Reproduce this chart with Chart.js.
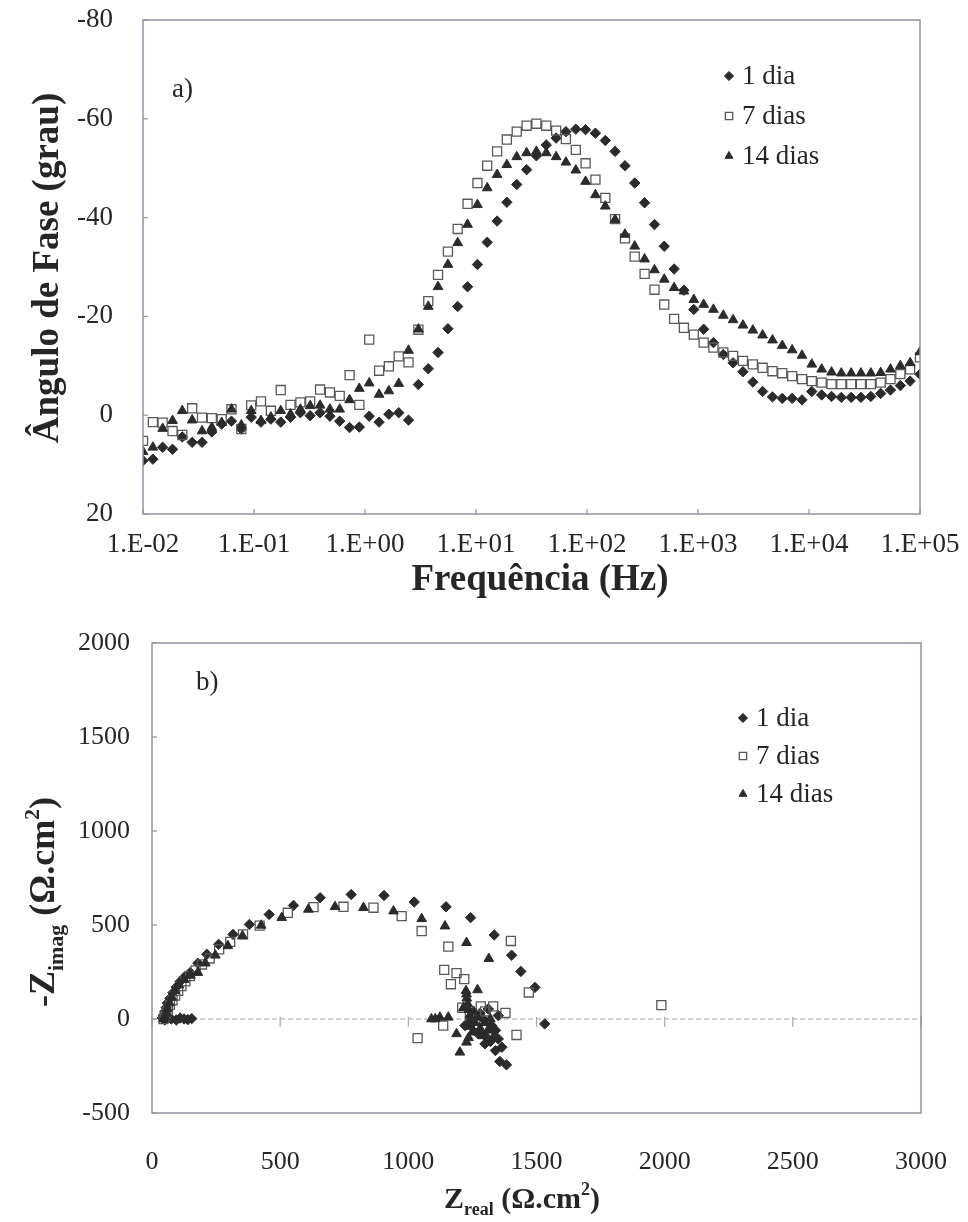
<!DOCTYPE html>
<html>
<head>
<meta charset="utf-8">
<script src="https://cdn.jsdelivr.net/npm/chart.js@4.4.1/dist/chart.umd.min.js"></script>
<style>
  html, body { margin:0; padding:0; background:#ffffff; }
  body { width:968px; height:1222px; position:relative; overflow:hidden; }
  canvas { position:absolute; left:0; }
  #chartA { top:0; }
  #chartB { top:600px; }
</style>
</head>
<body>
<canvas id="chartA" width="968" height="600" style="width:968px;height:600px"></canvas>
<canvas id="chartB" width="968" height="622" style="width:968px;height:622px"></canvas>
<script>
// ---------------- DATA ----------------
const seriesNames = ['1 dia', '7 dias', '14 dias'];

// log10 of the measured frequencies (Hz)
const freqExp = [
  -2.000,-1.911,-1.823,-1.734,-1.646,-1.557,-1.468,-1.380,-1.291,-1.203,
  -1.114,-1.025,-0.937,-0.848,-0.759,-0.671,-0.582,-0.494,-0.405,-0.316,
  -0.228,-0.139,-0.051, 0.038, 0.127, 0.215, 0.304, 0.392, 0.481, 0.570,
   0.658, 0.747, 0.835, 0.924, 1.013, 1.101, 1.190, 1.278, 1.367, 1.456,
   1.544, 1.633, 1.722, 1.810, 1.899, 1.987, 2.076, 2.165, 2.253, 2.342,
   2.430, 2.519, 2.608, 2.696, 2.785, 2.873, 2.962, 3.051, 3.139, 3.228,
   3.316, 3.405, 3.494, 3.582, 3.671, 3.759, 3.848, 3.937, 4.025, 4.114,
   4.203, 4.291, 4.380, 4.468, 4.557, 4.646, 4.734, 4.823, 4.911, 5.000
];

const phase1 = [
  9.2, 8.9, 6.5, 6.9, 4.4, 5.5, 5.5, 3.4, 1.8, 1.2,
  2.8, 0.4, 1.4, 0.8, 1.4, 0.4, -0.5, 0.1, -0.5, 0.2,
  1.2, 2.5, 2.4, 0.2, 1.4, -0.2, -0.5, 1.0, -6.2, -9.4,
  -12.7, -17.5, -22, -26, -30.5, -35, -39.3, -43.1, -46.7, -49.7,
  -52.5, -54.7, -56.1, -57.4, -57.9, -57.8, -57.1, -55.6, -53.4, -50.5,
  -47, -43, -38.6, -34.2, -29.6, -25.3, -21.4, -17.4, -14.7, -12.3,
  -10.6, -8.8, -6.7, -4.8, -3.7, -3.4, -3.4, -3.1, -4.8, -4.1,
  -3.8, -3.6, -3.6, -3.6, -3.8, -4.4, -5.1, -6, -6.9, -8.3
];
const phase7 = [
  5.2, 1.4, 1.5, 3.2, 4.0, -1.4, 0.5, 0.6, 0.8, -1.2,
  2.8, -2.0, -2.8, -0.9, -5.1, -2.1, -2.6, -2.8, -5.2, -4.6,
  -3.9, -8.1, -2.1, -15.3, -9.0, -9.9, -11.9, -10.7, -17.3, -23.1,
  -28.4, -33.1, -37.7, -42.8, -47, -50.5, -53.4, -55.8, -57.4, -58.6,
  -59, -58.6, -57.6, -55.9, -53.7, -51, -47.7, -44, -39.7, -35.8,
  -32.1, -28.6, -25.4, -22.4, -19.5, -17.7, -16.3, -14.7, -13.7, -12.7,
  -12, -11, -10.3, -9.6, -8.9, -8.5, -7.9, -7.3, -6.9, -6.6,
  -6.3, -6.3, -6.3, -6.3, -6.3, -6.6, -7.3, -8.3, -9.3, -11.7
];
const phase14 = [
  7.4, 6.5, 2.7, 1.1, -0.9, 1.0, 3.2, 2.5, 1.5, -1.2,
  2.0, -0.9, 1.1, 0.4, -0.9, -0.2, -1.2, -1.9, -2.0, -1.2,
  -1.2, -3.1, -5.4, -6.5, -4.2, -4.9, -6.4, -13.1, -17.4, -22,
  -26, -30.5, -34.9, -38.6, -42.6, -46, -48.7, -50.7, -52.3, -53.1,
  -53.4, -53.1, -52.3, -51.2, -49.6, -47.3, -44.6, -42.3, -39.6, -36.6,
  -34.2, -31.6, -29.4, -27.5, -25.8, -25.1, -23.4, -22.4, -21.4, -20.2,
  -19.3, -18.2, -17.2, -16.2, -15.2, -14.1, -13.2, -12.1, -10.3, -9.3,
  -8.7, -8.5, -8.5, -8.5, -8.5, -8.6, -9.3, -10, -10.6, -12.8
];

const xTickValuesA = [1e-2, 1e-1, 1, 10, 100, 1e3, 1e4, 1e5];
const xTickLabelsA = ['1.E-02','1.E-01','1.E+00','1.E+01','1.E+02','1.E+03','1.E+04','1.E+05'];
const yTicksA = [-80, -60, -40, -20, 0, 20];

// Nyquist (ohm.cm2)
const zReal1 = [40,50,60,75,95,110,125,140,155,
  45,50,55,60,70,82,95,110,128,149,179,214,260,316,380,457,552,656,777,905,1023,1147,1243,1335,1403,1439,1494,1532,
  1383,1357,1340,1351,1299,1273,1325,1351,1292,1253,1221,1312,1340,1300,1365,1280,1320];
const zImag1 = [5,-5,10,0,-5,5,0,-3,2,
  20,40,60,85,110,140,170,200,225,247,297,344,397,450,503,556,604,645,662,657,622,597,539,447,339,253,168,-26,
  -244,-226,-168,-106,-132,-79,-35,18,0,-18,-35,53,-60,-90,-150,30,-120];

const zReal7 = [45,50,55,62,70,80,90,102,115,130,
  148,170,195,225,262,305,355,420,530,630,
  747,864,974,1052,1156,1400,1470,1140,1188,1218,
  1166,1283,1331,1379,1136,1036,1422,1987,1240,1300,
  1260,1210];
const zImag7 = [0,15,30,50,75,100,125,150,175,200,
  228,258,290,322,370,410,450,497,565,595,
  597,592,547,468,385,415,141,261,244,212,
  185,67,67,32,-35,-102,-85,74,20,40,
  -30,60];

const zReal14 = [45,50,55,60,68,78,90,105,125,150,
  179,208,247,296,353,426,506,610,714,825,
  942,1052,1143,1227,1314,1270,1227,1123,1156,1201,
  1227,1188,1225,1228,1232,1236,1240,1238,1245,1250,
  1235,1260,1270,1215,1255,1280,1290,1300,1310,1320,
  1330,1090,1105];
const zImag14 = [0,10,30,55,85,115,150,180,210,232,
  247,297,339,389,442,498,539,583,597,592,
  574,533,494,406,321,155,132,9,9,-177,
  -124,-79,150,110,80,50,20,-10,-40,-70,
  -100,-20,10,60,40,-50,-90,-20,-60,0,
  -100,0,0];

const xTicksB = [0, 500, 1000, 1500, 2000, 2500, 3000];
const yTicksB = [-500, 0, 500, 1000, 1500, 2000];

// ---------------- STYLE ----------------
const SERIF = "'Liberation Serif', 'Times New Roman', serif";
const TXT = '#262626';
const FRAME = '#8e94a4';
const markerStyles = [
  { pointStyle:'rectRot',  radius:5.2, fill:'#2b2b2b', stroke:'#2b2b2b', bw:1 },
  { pointStyle:'rect',     radius:6.4, fill:'rgba(255,255,255,0)', stroke:'#595959', bw:1.3 },
  { pointStyle:'triangle', radius:5.6, fill:'#2b2b2b', stroke:'#2b2b2b', bw:1 }
];

function makeDataset(i, data) {
  const s = markerStyles[i];
  return {
    label: seriesNames[i], data, showLine:false,
    pointStyle: s.pointStyle, pointRadius: s.radius, pointHoverRadius: s.radius,
    pointBackgroundColor: s.fill, pointBorderColor: s.stroke, pointBorderWidth: s.bw,
    order: 3 - i
  };
}

function drawMarker(ctx, s, x, y, r) {
  ctx.save();
  ctx.beginPath();
  if (s.pointStyle === 'rectRot') {
    ctx.moveTo(x - r, y); ctx.lineTo(x, y - r); ctx.lineTo(x + r, y); ctx.lineTo(x, y + r); ctx.closePath();
  } else if (s.pointStyle === 'rect') {
    const h = r * Math.SQRT1_2; ctx.rect(x - h, y - h, 2 * h, 2 * h);
  } else {
    ctx.moveTo(x, y - r); ctx.lineTo(x + 0.866 * r, y + 0.5 * r); ctx.lineTo(x - 0.866 * r, y + 0.5 * r); ctx.closePath();
  }
  ctx.fillStyle = s.fill; ctx.strokeStyle = s.stroke; ctx.lineWidth = s.bw;
  ctx.fill(); ctx.stroke();
  ctx.restore();
}

function richText(ctx, parts, cx, cy, angle) {
  ctx.save();
  ctx.translate(cx, cy); ctx.rotate(angle || 0);
  ctx.fillStyle = TXT; ctx.textAlign = 'left'; ctx.textBaseline = 'alphabetic';
  let total = 0;
  parts.forEach(p => { ctx.font = p.font; p.w = ctx.measureText(p.text).width; total += p.w; });
  let x = -total / 2;
  parts.forEach(p => { ctx.font = p.font; ctx.fillText(p.text, x, p.dy || 0); x += p.w; });
  ctx.restore();
}

function drawLegend(ctx, x, y0, dy) {
  ctx.save();
  ctx.font = '27px ' + SERIF; ctx.fillStyle = TXT; ctx.textBaseline = 'middle'; ctx.textAlign = 'left';
  seriesNames.forEach((n, i) => {
    const y = y0 + i * dy;
    drawMarker(ctx, markerStyles[i], x, y, i === 1 ? 5.2 : 4.6);
    ctx.fillText(n, x + 13, y + 1);
  });
  ctx.restore();
}

const commonOpts = {
  responsive:false, maintainAspectRatio:false, animation:false, devicePixelRatio:1,
  plugins:{ legend:{display:false}, tooltip:{enabled:false}, title:{display:false} },
  events: []
};

function fixX(h) { return s => { s.height = h; s.paddingLeft = 0; s.paddingRight = 0; }; }
function fixY(w) { return s => { s.width = w; s.paddingTop = 0; s.paddingBottom = 0; }; }

// ---------------- CHART A ----------------
const dataA = [phase1, phase7, phase14].map((arr, si) =>
  makeDataset(si, arr.map((v, i) => ({ x: Math.pow(10, freqExp[i]), y: v }))));

const plugA = {
  id:'decorA',
  afterDraw(chart) {
    const { ctx, chartArea:a, scales } = chart;
    ctx.save();
    ctx.strokeStyle = FRAME; ctx.lineWidth = 1.5;
    ctx.strokeRect(a.left, a.top, a.right - a.left, a.bottom - a.top);
    ctx.lineWidth = 1.2;
    xTickValuesA.forEach(v => {
      const x = scales.x.getPixelForValue(v);
      ctx.beginPath(); ctx.moveTo(x, a.bottom); ctx.lineTo(x, a.bottom - 5); ctx.stroke();
    });
    yTicksA.forEach(v => {
      const y = scales.y.getPixelForValue(v);
      ctx.beginPath(); ctx.moveTo(a.left, y); ctx.lineTo(a.left + 5, y); ctx.stroke();
    });
    ctx.restore();
    ctx.save(); ctx.font = '27px ' + SERIF; ctx.fillStyle = TXT; ctx.textBaseline = 'middle';
    ctx.fillText('a)', 172, 90); ctx.restore();
    drawLegend(ctx, 729, 76, 40);
    richText(ctx, [{ text:'Frequência (Hz)', font:'bold 37px ' + SERIF }], 540, 590, 0);
    richText(ctx, [{ text:'Ângulo de Fase (grau)', font:'bold 37px ' + SERIF }], 58, 268, -Math.PI / 2);
  }
};

new Chart(document.getElementById('chartA'), {
  type:'scatter',
  data:{ datasets:dataA },
  options:{
    ...commonOpts,
    layout:{ padding:{ top:20, right:48, left:0, bottom:0 } },
    scales:{
      x:{
        type:'logarithmic', min:1e-2, max:1e5,
        afterBuildTicks(s){ s.ticks = xTickValuesA.map(v => ({ value:v })); },
        afterFit: fixX(86),
        grid:{ display:false, drawTicks:false }, border:{ display:false },
        ticks:{ autoSkip:false, maxRotation:0, padding:15, color:TXT,
          font:{ family:SERIF, size:27 },
          callback(v, i){ return xTickLabelsA[i]; } }
      },
      y:{
        type:'linear', min:-80, max:20, reverse:true,
        afterBuildTicks(s){ s.ticks = yTicksA.map(v => ({ value:v })); },
        afterFit: fixY(143),
        grid:{ display:false, drawTicks:false }, border:{ display:false },
        ticks:{ padding:30, color:TXT, font:{ family:SERIF, size:27 },
          callback(v){ return String(v); } }
      }
    }
  },
  plugins:[plugA]
});

// ---------------- CHART B ----------------
const dataB = [[zReal1, zImag1], [zReal7, zImag7], [zReal14, zImag14]].map((p, si) =>
  makeDataset(si, p[0].map((xv, i) => ({ x: xv, y: p[1][i] }))));

const plugB = {
  id:'decorB',
  beforeDatasetsDraw(chart) {
    const { ctx, chartArea:a, scales } = chart;
    const y0 = scales.y.getPixelForValue(0);
    ctx.save();
    ctx.strokeStyle = '#c4c4c4'; ctx.lineWidth = 1.5; ctx.setLineDash([5, 3]);
    ctx.beginPath(); ctx.moveTo(a.left, y0); ctx.lineTo(a.right, y0); ctx.stroke();
    ctx.setLineDash([]);
    ctx.strokeStyle = '#a8a8a8'; ctx.lineWidth = 1.2;
    xTicksB.forEach(v => {
      const x = scales.x.getPixelForValue(v);
      ctx.beginPath(); ctx.moveTo(x, y0 - 2); ctx.lineTo(x, y0 + 8); ctx.stroke();
    });
    ctx.restore();
  },
  afterDraw(chart) {
    const { ctx, chartArea:a, scales } = chart;
    ctx.save();
    ctx.strokeStyle = FRAME; ctx.lineWidth = 1.5;
    ctx.strokeRect(a.left, a.top, a.right - a.left, a.bottom - a.top);
    ctx.lineWidth = 1.2;
    yTicksB.forEach(v => {
      const y = scales.y.getPixelForValue(v);
      ctx.beginPath(); ctx.moveTo(a.left, y); ctx.lineTo(a.left + 5, y); ctx.stroke();
    });
    ctx.restore();
    ctx.save(); ctx.font = '27px ' + SERIF; ctx.fillStyle = TXT; ctx.textBaseline = 'middle';
    ctx.fillText('b)', 196, 83); ctx.restore();
    drawLegend(ctx, 743, 118, 38);
    const F = 'bold 30px ' + SERIF, Fs = 'bold 18px ' + SERIF;
    richText(ctx, [
      { text:'Z', font:F }, { text:'real', font:Fs, dy:7 },
      { text:' (Ω.cm', font:F }, { text:'2', font:Fs, dy:-13 }, { text:')', font:F }
    ], 522, 608, 0);
    const G = 'bold 36px ' + SERIF, Gs = 'bold 22px ' + SERIF;
    richText(ctx, [
      { text:'-Z', font:G }, { text:'imag', font:Gs, dy:9 },
      { text:' (Ω.cm', font:G }, { text:'2', font:Gs, dy:-15 }, { text:')', font:G }
    ], 54, 302, -Math.PI / 2);
  }
};

new Chart(document.getElementById('chartB'), {
  type:'scatter',
  data:{ datasets:dataB },
  options:{
    ...commonOpts,
    layout:{ padding:{ top:43, right:47, left:0, bottom:0 } },
    scales:{
      x:{
        type:'linear', min:0, max:3000,
        afterBuildTicks(s){ s.ticks = xTicksB.map(v => ({ value:v })); },
        afterFit: fixX(109),
        grid:{ display:false, drawTicks:false }, border:{ display:false },
        ticks:{ autoSkip:false, maxRotation:0, padding:34, color:TXT,
          font:{ family:SERIF, size:26 }, callback(v){ return String(v); } }
      },
      y:{
        type:'linear', min:-500, max:2000,
        afterBuildTicks(s){ s.ticks = yTicksB.map(v => ({ value:v })); },
        afterFit: fixY(152),
        grid:{ display:false, drawTicks:false }, border:{ display:false },
        ticks:{ padding:22, color:TXT, font:{ family:SERIF, size:26 },
          callback(v){ return String(v); } }
      }
    }
  },
  plugins:[plugB]
});
</script>
</body>
</html>
